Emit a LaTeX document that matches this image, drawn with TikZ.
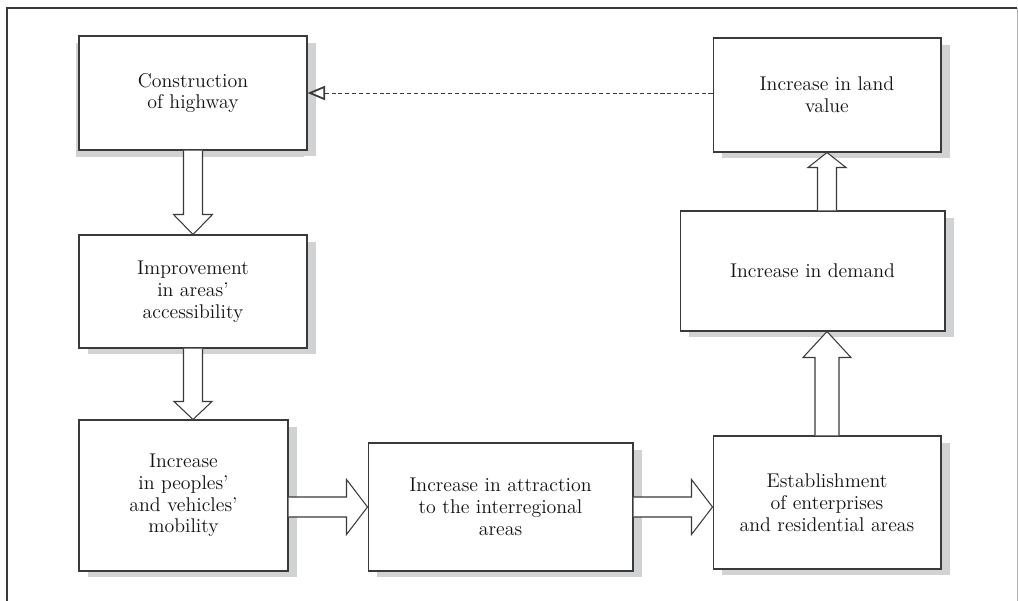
\documentclass[tikz,border=0pt]{standalone}
\usepackage{fontspec}
\usetikzlibrary{calc,arrows.meta,shadows}

\definecolor{boxline}{HTML}{3A3A3A}
\definecolor{shade}{HTML}{D1D2D4}
\definecolor{textgray}{HTML}{111111}

\tikzset{
  stepbox/.style={draw=boxline, line width=0.6pt, fill=white, align=center,
    inner sep=0pt, text=textgray, font=\fontsize{11.3}{12.4}\selectfont,
    drop shadow={shadow xshift=0.18cm, shadow yshift=-0.13cm, fill=shade, opacity=1}},
  fat/.style n args={3}{draw=boxline, line width=0.6pt, fill=white,
    to path={let \p1=($(\tikztotarget)!#3!(\tikztostart)$) in
      ($(\tikztostart)!#1!90:(\tikztotarget)$) -- ($(\p1)!#1!90:(\tikztotarget)$)
      -- ($(\p1)!#2!90:(\tikztotarget)$) -- (\tikztotarget)
      -- ($(\p1)!#2!-90:(\tikztotarget)$) -- ($(\p1)!#1!-90:(\tikztotarget)$)
      -- ($(\tikztostart)!#1!-90:(\tikztotarget)$)}},
}

\begin{document}
\begin{tikzpicture}[x=0.02cm, y=-0.02cm]
  \useasboundingbox (0,0) rectangle (1018,601);
  % frame
  \draw[line width=1.1pt, draw=boxline] (7,601) -- (7,8) -- (1017,8);
  \draw[line width=0.5pt, draw=black!30] (1017,8) -- (1017,601);

  \node[stepbox, minimum width=4.56cm, minimum height=2.28cm,
    drop shadow={shadow xshift=-0.06cm, shadow yshift=-0.14cm, fill=shade, opacity=1}]
    (build) at (193,93) {Construction\\of highway};
  \node[stepbox, minimum width=4.56cm, minimum height=2.26cm] (access) at (193,291.5) {Improvement\\in areas'\\accessibility};
  \node[stepbox, minimum width=4.18cm, minimum height=3.02cm] (mobility) at (183.5,495.5) {Increase\\in peoples'\\and vehicles'\\mobility};
  \node[stepbox, minimum width=5.30cm, minimum height=2.56cm] (attract) at (500.5,507) {Increase in attraction\\to the interregional\\areas};
  \node[stepbox, minimum width=4.56cm, minimum height=2.66cm] (enterprise) at (827,502.5) {Establishment\\of enterprises\\and residential areas};
  \node[stepbox, minimum width=5.30cm, minimum height=2.40cm] (demand) at (812.5,271) {Increase in demand};
  \node[stepbox, minimum width=4.56cm, minimum height=2.28cm] (landvalue) at (827,95) {Increase in land\\value};

  % block arrows
  \draw[fat={0.19cm}{0.39cm}{0.4cm}] (build.south) to (access.north);
  \draw[fat={0.19cm}{0.38cm}{0.36cm}] (access.south) to (access.south |- mobility.north);
  \draw[fat={0.2cm}{0.55cm}{0.42cm}] (mobility.east |- attract.west) to (attract.west);
  \draw[fat={0.2cm}{0.55cm}{0.42cm}] (attract.east) to (enterprise.west |- attract.east);
  \draw[fat={0.24cm}{0.48cm}{0.52cm}] (enterprise.north) to (enterprise.north |- demand.south);
  \draw[fat={0.19cm}{0.38cm}{0.3cm}] (landvalue.south |- demand.north) to (landvalue.south);

  \draw[line width=0.5pt, draw=boxline, dash pattern=on 2.3pt off 1.6pt,
    -{Triangle[open, length=10pt, width=8pt, line width=1pt]}]
    (landvalue.west |- build.east) -- (build.east);
\end{tikzpicture}
\end{document}
